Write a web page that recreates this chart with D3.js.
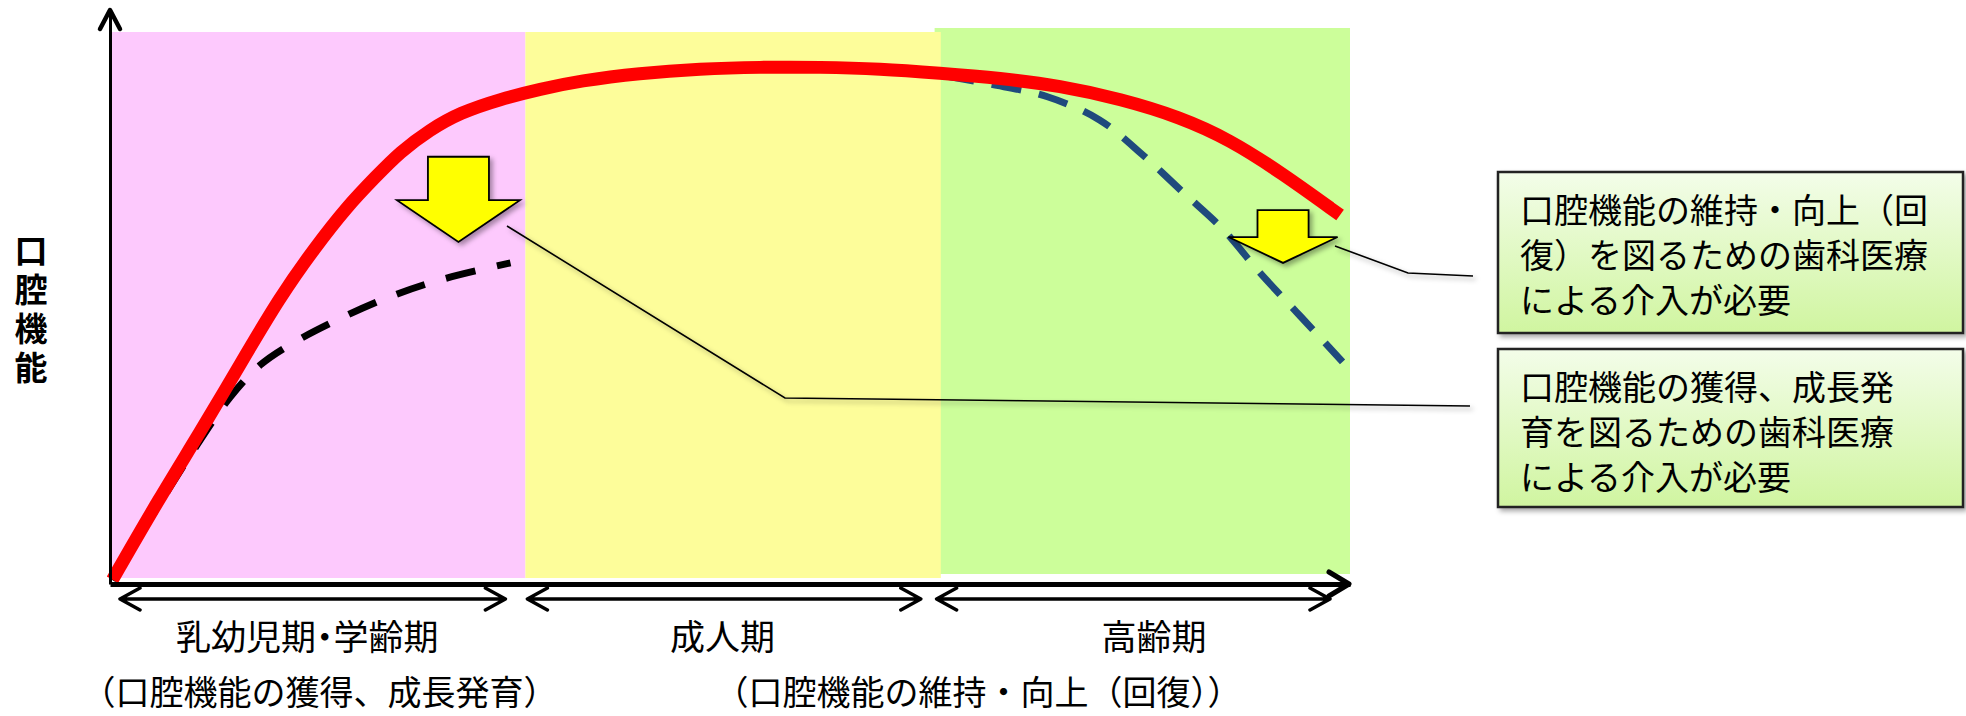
<!DOCTYPE html>
<html><head><meta charset="utf-8">
<script src="https://cdn.jsdelivr.net/npm/d3@7"></script>
<style>
html,body{margin:0;padding:0;background:#fff;}
svg{display:block;font-family:"Noto Sans CJK JP","Noto Sans",sans-serif;}
</style></head><body>
<svg id="chart" width="1966" height="716"></svg>
<script>
// ---- data ----
const phaseNames = ["乳幼児期・学齢期", "成人期", "高齢期"];
const phaseStarts = [0, 33.5, 66.5];
const phaseEnds = [33.5, 67, 100];
const phaseLabelX = [15.9, 49.4, 84.2];
const phaseColors = ["#fdc9fd", "#fdfd9a", "#ccfe9a"];
const noteTexts = ["（口腔機能の獲得、成長発育）", "（口腔機能の維持・向上（回復））"];
const noteX = [16.9, 70.0];
const yLabel = "口腔機能";

// ideal (with intervention) – red solid
const idealX = [0.2, 4.0, 7.3, 10.5, 13.7, 16.5, 19.1, 21.4, 23.4, 25.8, 28.2, 31.5, 34.7, 37.9, 42.7, 47.6, 52.4, 57.3, 62.1, 66.9, 71.8, 76.6, 81.5, 86.3, 90.3, 94.4, 99.2];
const idealY = [0.6, 15.5, 27.5, 39.8, 52.0, 60.9, 68.4, 73.8, 78.4, 82.4, 85.5, 88.0, 89.8, 91.3, 92.7, 93.5, 93.8, 93.8, 93.5, 92.7, 91.8, 90.4, 88.0, 84.7, 80.6, 74.7, 66.9];
// childhood without intervention – black dashed
const childX = [0.2, 3.2, 6.5, 9.7, 12.1, 14.5, 18.3, 22.3, 26.6, 32.3];
const childY = [0.5, 11.5, 23.3, 33.8, 39.6, 43.3, 47.8, 51.8, 55.1, 58.2];
// old age without intervention – blue dashed
const elderX = [67.3, 71.0, 75.6, 79.8, 83.3, 86.5, 89.8, 92.7, 96.0, 99.4];
const elderY = [92.2, 90.7, 88.4, 84.2, 77.8, 71.1, 64.2, 56.5, 48.5, 40.2];

// intervention arrows (data units)
const arrowX = [28.1, 94.6];
const arrowTop = [77.5, 67.8];
const arrowHead = [69.6, 62.9];
const arrowTip = [62.0, 58.2];
const arrowShaftHalf = [2.46, 2.06];
const arrowHeadHalf = [4.96, 4.4];

const calloutLines = [
  ["口腔機能の維持・向上（回", "復）を図るための歯科医療", "による介入が必要"],
  ["口腔機能の獲得、成長発", "育を図るための歯科医療", "による介入が必要"]
];

// ---- drawing ----
const svg = d3.select("#chart");
const x = d3.scaleLinear().domain([0, 100]).range([110, 1350]);
const y = d3.scaleLinear().domain([0, 100]).range([583, 33]);
const axisY = 584;

const defs = svg.append("defs");
const f = defs.append("filter").attr("id", "shadow").attr("filterUnits", "userSpaceOnUse")
  .attr("x", 0).attr("y", 0).attr("width", 1966).attr("height", 716);
f.append("feDropShadow").attr("dx", 3).attr("dy", 3).attr("stdDeviation", 2.5)
  .attr("flood-color", "#000").attr("flood-opacity", 0.35);
const g = defs.append("linearGradient").attr("id", "boxgrad").attr("x1", 0).attr("y1", 0).attr("x2", 0).attr("y2", 1);
g.append("stop").attr("offset", "0%").attr("stop-color", "#f3fde9");
g.append("stop").attr("offset", "100%").attr("stop-color", "#d0f5a0");

// bands: green first, then pink/yellow on top
const bandTop = [y(100) - 1, y(100) - 1, y(100) - 5];
const bandBottom = [578, 578, 574];
const order = [2, 0, 1];
svg.append("g").selectAll("rect").data(order).join("rect")
  .attr("x", i => x(phaseStarts[i]) + (i === 0 ? 2 : 0))
  .attr("y", i => bandTop[i])
  .attr("width", i => x(phaseEnds[i]) - x(phaseStarts[i]) - (i === 0 ? 2 : 0))
  .attr("height", i => bandBottom[i] - bandTop[i])
  .attr("fill", i => phaseColors[i]);

// leader lines
const leaders = [
  [[507, 226], [785, 398], [1470, 406]],
  [[1335, 246], [1408, 273], [1473, 276]]
];
svg.append("g").selectAll("path").data(leaders).join("path")
  .attr("d", d => d3.line()(d)).attr("fill", "none")
  .attr("stroke", "#000").attr("stroke-width", 1.6).attr("filter", "url(#shadow)");

// lines
const line = d3.line().x(d => x(d[0])).y(d => y(d[1])).curve(d3.curveCatmullRom.alpha(0.5));
const smooth = d3.line().x(d => x(d[0])).y(d => y(d[1])).curve(d3.curveBasis);
svg.append("path").datum(childX.map((v, i) => [v, childY[i]]))
  .attr("d", line).attr("fill", "none").attr("stroke", "#000").attr("stroke-width", 7)
  .attr("stroke-dasharray", "30,22");
svg.append("path").datum(elderX.map((v, i) => [v, elderY[i]]))
  .attr("d", line).attr("fill", "none").attr("stroke", "#1f4a7d").attr("stroke-width", 7)
  .attr("stroke-dasharray", "30,18");
svg.append("path").datum(idealX.map((v, i) => [v, idealY[i]]))
  .attr("d", smooth).attr("fill", "none").attr("stroke", "#ff0000").attr("stroke-width", 13);

// yellow arrows
svg.append("g").selectAll("path").data(arrowX).join("path")
  .attr("d", (cx, i) => {
    const px = x(cx), sw = x(arrowShaftHalf[i]) - x(0), hw = x(arrowHeadHalf[i]) - x(0);
    const t = y(arrowTop[i]), h = y(arrowHead[i]), tip = y(arrowTip[i]);
    return `M${px - sw},${t}L${px + sw},${t}L${px + sw},${h}L${px + hw},${h}L${px},${tip}L${px - hw},${h}L${px - sw},${h}Z`;
  })
  .attr("fill", "#ffff00").attr("stroke", "#000").attr("stroke-width", 1.8)
  .attr("stroke-linejoin", "miter").attr("filter", "url(#shadow)");

// axes
const xAxisScale = d3.scaleLinear().domain([0, 1]).range([110, 1350]);
const yAxisScale = d3.scaleLinear().domain([0, 1]).range([axisY, 10]);
const xa = svg.append("g").attr("transform", `translate(0,${axisY})`)
  .call(d3.axisBottom(xAxisScale).tickValues([]).tickSizeOuter(0));
xa.select(".domain").attr("stroke", "#000").attr("stroke-width", 5);
const ya = svg.append("g").attr("transform", "translate(110,0)")
  .call(d3.axisLeft(yAxisScale).tickValues([]).tickSizeOuter(0));
ya.select(".domain").attr("stroke", "#000").attr("stroke-width", 3);
// arrowheads (open chevrons)
svg.append("path").attr("d", `M100,29L110,10L120,29`).attr("fill", "none")
  .attr("stroke", "#000").attr("stroke-width", 4.5).attr("stroke-linecap", "round").attr("stroke-linejoin", "round");
svg.append("path").attr("d", `M1329,${axisY - 12}L1349,${axisY}L1329,${axisY + 12}`).attr("fill", "none")
  .attr("stroke", "#000").attr("stroke-width", 5).attr("stroke-linecap", "round").attr("stroke-linejoin", "round");

// phase double arrows
const da = svg.append("g").attr("fill", "none").attr("stroke", "#000").attr("stroke-width", 3.5)
  .attr("stroke-linecap", "round").attr("stroke-linejoin", "round");
phaseNames.forEach((n, i) => {
  const l = x(phaseStarts[i]) + (i === 0 ? 10 : 2), r = x(phaseEnds[i]) - 20, yy = 599;
  da.append("path").attr("d", `M${l},${yy}L${r},${yy}M${l + 20},${yy - 11}L${l},${yy}L${l + 20},${yy + 11}M${r - 20},${yy - 11}L${r},${yy}L${r - 20},${yy + 11}`);
});

// phase labels and notes
svg.append("g").selectAll("text").data(phaseNames).join("text")
  .attr("x", (d, i) => x(phaseLabelX[i])).attr("y", 650)
  .attr("text-anchor", "middle").attr("font-size", 35).attr("fill", "#000")
  .style("font-feature-settings", "'palt'").text(d => d);
svg.append("g").selectAll("text").data(noteTexts).join("text")
  .attr("x", (d, i) => x(noteX[i])).attr("y", 705)
  .attr("text-anchor", "middle").attr("font-size", 34).attr("fill", "#000").text(d => d);

// y label (vertical)
svg.append("text").attr("x", 31).attr("y", 234)
  .style("writing-mode", "vertical-rl").style("letter-spacing", "6px")
  .attr("font-size", 33).attr("font-weight", "bold").attr("fill", "#000").text(yLabel);

// callout boxes
const boxTop = [172, 349], boxBottom = [333, 507];
calloutLines.forEach((lines, i) => {
  svg.append("rect").attr("x", 1498).attr("y", boxTop[i]).attr("width", 465)
    .attr("height", boxBottom[i] - boxTop[i]).attr("fill", "url(#boxgrad)")
    .attr("stroke", "#222").attr("stroke-width", 2.5).attr("filter", "url(#shadow)");
  const t = svg.append("text").attr("font-size", 34).attr("fill", "#000");
  lines.forEach((s, j) => {
    t.append("tspan").attr("x", 1520).attr("y", boxTop[i] + 51 + j * 45).text(s);
  });
});
</script>
</body></html>
